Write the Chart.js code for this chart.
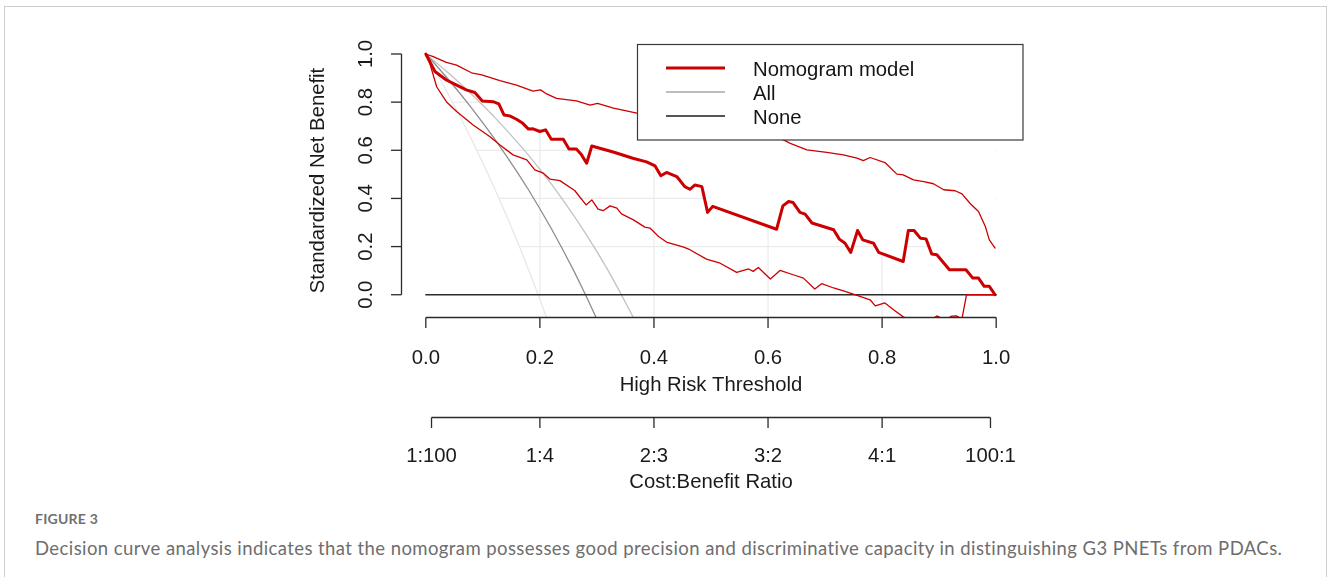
<!DOCTYPE html>
<html>
<head>
<meta charset="utf-8">
<script src="https://cdn.jsdelivr.net/npm/chart.js@4.4.1/dist/chart.umd.min.js"></script>
<style>
html,body{margin:0;padding:0;background:#fff;width:1328px;height:577px;overflow:hidden;}
#frame{position:absolute;left:4px;top:6px;width:1323px;height:640px;border:1.5px solid #cdcdcd;box-sizing:border-box;}
#c{position:absolute;left:0;top:0;}
.cap{position:absolute;left:35px;white-space:nowrap;font-family:Lato,"Open Sans",sans-serif;line-height:1;}
#figlab{top:511.6px;font-size:14px;font-weight:700;color:#707070;}
#figcap{top:538.7px;font-size:18.5px;color:#6e6e6e;}
</style>
</head>
<body>
<div id="frame"></div>
<canvas id="c" width="1328" height="500"></canvas>
<div class="cap" id="figlab"><span>FIGURE 3</span></div>
<div class="cap" id="figcap"><span>Decision curve analysis indicates that the nomogram possesses good precision and discriminative capacity in distinguishing G3 PNETs from PDACs.</span></div>
<script>
// ---------- data ----------
const nomoX = [0,0.016,0.036,0.054,0.071,0.086,0.099,0.118,0.128,0.137,0.147,0.159,0.170,0.180,0.188,0.200,0.210,0.220,0.241,0.251,0.264,0.273,0.282,0.291,0.330,0.363,0.387,0.402,0.412,0.422,0.440,0.454,0.463,0.472,0.484,0.494,0.503,0.615,0.626,0.636,0.644,0.656,0.665,0.677,0.715,0.725,0.735,0.745,0.757,0.766,0.785,0.794,0.837,0.846,0.856,0.867,0.877,0.887,0.896,0.918,0.947,0.959,0.969,0.979,0.988,0.998];
const nomoY = [1.000,0.927,0.892,0.871,0.851,0.840,0.805,0.802,0.793,0.747,0.743,0.729,0.712,0.688,0.689,0.678,0.685,0.646,0.646,0.605,0.605,0.581,0.546,0.618,0.592,0.567,0.552,0.535,0.494,0.508,0.491,0.449,0.438,0.456,0.449,0.342,0.367,0.272,0.369,0.387,0.383,0.342,0.335,0.298,0.270,0.231,0.214,0.176,0.267,0.228,0.214,0.176,0.138,0.267,0.267,0.235,0.232,0.169,0.166,0.104,0.104,0.069,0.069,0.035,0.035,0.000];

const upperX = [0,0.013,0.036,0.054,0.080,0.098,0.130,0.159,0.188,0.201,0.212,0.229,0.264,0.288,0.301,0.329,0.370,0.420,0.470,0.520,0.570,0.610,0.627,0.639,0.668,0.703,0.732,0.756,0.767,0.779,0.805,0.826,0.837,0.855,0.873,0.890,0.908,0.928,0.940,0.954,0.969,0.981,0.988,0.998];
const upperY = [1.000,0.989,0.965,0.954,0.922,0.913,0.889,0.871,0.846,0.851,0.834,0.816,0.805,0.788,0.795,0.775,0.754,0.735,0.718,0.700,0.676,0.652,0.643,0.629,0.602,0.591,0.581,0.567,0.557,0.570,0.549,0.501,0.498,0.477,0.470,0.461,0.436,0.432,0.419,0.380,0.346,0.283,0.228,0.194];

const lowerX = [0,0.007,0.019,0.036,0.054,0.083,0.112,0.130,0.153,0.177,0.191,0.206,0.218,0.235,0.261,0.281,0.291,0.302,0.311,0.323,0.335,0.343,0.364,0.384,0.393,0.408,0.422,0.452,0.463,0.492,0.516,0.545,0.566,0.574,0.583,0.604,0.621,0.644,0.662,0.682,0.694,0.715,0.735,0.756,0.779,0.788,0.805,0.820,0.837,0.855,0.875,0.886,0.896,0.910,0.922,0.930,0.940,0.948,0.998];
const lowerY = [1.000,0.961,0.864,0.802,0.761,0.705,0.657,0.622,0.581,0.560,0.519,0.505,0.480,0.474,0.433,0.373,0.394,0.356,0.349,0.369,0.360,0.336,0.311,0.281,0.277,0.242,0.219,0.198,0.187,0.148,0.131,0.093,0.107,0.097,0.113,0.065,0.101,0.083,0.069,0.024,0.046,0.028,0.014,-0.003,-0.021,-0.046,-0.034,-0.062,-0.092,-0.110,-0.095,-0.105,-0.088,-0.105,-0.089,-0.088,-0.100,0.000,0.000];

const allX = [0,0.02,0.04,0.06,0.08,0.10,0.12,0.14,0.16,0.18,0.20,0.22,0.24,0.26,0.28,0.30];
const allY = [1.000,0.948,0.893,0.836,0.776,0.714,0.649,0.581,0.510,0.436,0.357,0.275,0.188,0.097,0.000,-0.102];

const allHiX = [0,0.02,0.04,0.06,0.08,0.10,0.12,0.14,0.16,0.18,0.20,0.22,0.24,0.26,0.28,0.30,0.32,0.34,0.36,0.37];
const allHiY = [1.000,0.961,0.920,0.878,0.833,0.787,0.739,0.688,0.635,0.580,0.521,0.460,0.395,0.327,0.255,0.179,0.099,0.013,-0.077,-0.125];

const allLoX = [0,0.02,0.04,0.06,0.08,0.10,0.12,0.14,0.16,0.18,0.20,0.22];
const allLoY = [1.000,0.917,0.830,0.740,0.646,0.547,0.444,0.336,0.224,0.105,-0.019,-0.150];

const noneX = [0,1];
const noneY = [0,0];

const xTicks = [0,0.2,0.4,0.6,0.8,1.0];
const xTickLabels = ["0.0","0.2","0.4","0.6","0.8","1.0"];
const yTicks = [0,0.2,0.4,0.6,0.8,1.0];
const yTickLabels = ["0.0","0.2","0.4","0.6","0.8","1.0"];
const cbTicks = [0.01,0.2,0.4,0.6,0.8,0.99];
const cbTickLabels = ["1:100","1:4","2:3","3:2","4:1","100:1"];
const gridX = [0.2,0.4,0.6,0.8];
const gridY = [0.2,0.4,0.6,0.8];
const legendLabels = ["Nomogram model","All","None"];

// ---------- helpers ----------
const pts = (xs, ys) => xs.map((x, i) => ({x: x, y: ys[i]}));
const FONT = '20.3px "Liberation Sans", Arial, sans-serif';
const RED = '#cc0000';

function line(data, color, width, extra) {
  return Object.assign({data: data, borderColor: color, borderWidth: width, pointRadius: 0,
    pointHoverRadius: 0, fill: false, tension: 0, clip: 0, borderJoinStyle: 'round', borderCapStyle: 'round'}, extra || {});
}

const rPlot = {
  id: 'rPlot',
  beforeDatasetsDraw(chart) {
    const ctx = chart.ctx, xs = chart.scales.x, ys = chart.scales.y, a = chart.chartArea;
    ctx.save();
    ctx.strokeStyle = '#ebebeb';
    ctx.lineWidth = 1.2;
    gridX.forEach(v => {
      const px = xs.getPixelForValue(v);
      ctx.beginPath(); ctx.moveTo(px, a.bottom); ctx.lineTo(px, a.top); ctx.stroke();
    });
    gridY.forEach(v => {
      const py = ys.getPixelForValue(v);
      ctx.beginPath(); ctx.moveTo(xs.getPixelForValue(0), py); ctx.lineTo(xs.getPixelForValue(1), py); ctx.stroke();
    });
    ctx.restore();
  },
  afterDatasetsDraw(chart) {
    const ctx = chart.ctx;
    ctx.save();
    // legend box
    ctx.fillStyle = '#ffffff';
    ctx.fillRect(637.5, 44.5, 385.5, 95.5);
    ctx.strokeStyle = '#3a3a3a';
    ctx.lineWidth = 1.2;
    ctx.strokeRect(637.5, 44.5, 385.5, 95.5);
    const rows = [
      {y: 68, color: RED, w: 3, base: 76},
      {y: 92, color: '#bdbdbd', w: 2, base: 99.5},
      {y: 116, color: '#555555', w: 2, base: 124}
    ];
    ctx.font = FONT;
    ctx.textAlign = 'left';
    ctx.textBaseline = 'alphabetic';
    rows.forEach((r, i) => {
      ctx.strokeStyle = r.color; ctx.lineWidth = r.w;
      ctx.beginPath(); ctx.moveTo(666, r.y); ctx.lineTo(725, r.y); ctx.stroke();
      ctx.fillStyle = '#151515';
      ctx.fillText(legendLabels[i], 753, r.base);
    });
    ctx.restore();
  },
  afterDraw(chart) {
    const ctx = chart.ctx, xs = chart.scales.x, ys = chart.scales.y;
    ctx.save();
    ctx.strokeStyle = '#2a2a2a';
    ctx.fillStyle = '#1a1a1a';
    ctx.lineWidth = 1.3;
    ctx.font = FONT;
    // y axis
    const yx = 401.5;
    ctx.beginPath(); ctx.moveTo(yx, ys.getPixelForValue(yTicks[0])); ctx.lineTo(yx, ys.getPixelForValue(yTicks[yTicks.length-1])); ctx.stroke();
    yTicks.forEach((v, i) => {
      const py = ys.getPixelForValue(v);
      ctx.beginPath(); ctx.moveTo(391, py); ctx.lineTo(yx, py); ctx.stroke();
      ctx.save(); ctx.translate(372, py); ctx.rotate(-Math.PI/2);
      ctx.textAlign = 'center'; ctx.textBaseline = 'alphabetic';
      ctx.fillText(yTickLabels[i], 0, 0); ctx.restore();
    });
    ctx.save(); ctx.translate(324, (chart.chartArea.top + chart.chartArea.bottom)/2); ctx.rotate(-Math.PI/2);
    ctx.textAlign = 'center'; ctx.textBaseline = 'alphabetic';
    ctx.fillText('Standardized Net Benefit', 0, 0); ctx.restore();
    // x axis
    const xy = 317.5;
    ctx.textAlign = 'center'; ctx.textBaseline = 'alphabetic';
    ctx.beginPath(); ctx.moveTo(xs.getPixelForValue(xTicks[0]), xy); ctx.lineTo(xs.getPixelForValue(xTicks[xTicks.length-1]), xy); ctx.stroke();
    xTicks.forEach((v, i) => {
      const px = xs.getPixelForValue(v);
      ctx.beginPath(); ctx.moveTo(px, xy); ctx.lineTo(px, 328); ctx.stroke();
      ctx.fillText(xTickLabels[i], px, 364);
    });
    const cx = (chart.chartArea.left + chart.chartArea.right)/2;
    ctx.fillText('High Risk Threshold', cx, 391);
    // cost:benefit axis
    const cy = 417.5;
    ctx.beginPath(); ctx.moveTo(xs.getPixelForValue(cbTicks[0]), cy); ctx.lineTo(xs.getPixelForValue(cbTicks[cbTicks.length-1]), cy); ctx.stroke();
    cbTicks.forEach((v, i) => {
      const px = xs.getPixelForValue(v);
      ctx.beginPath(); ctx.moveTo(px, cy); ctx.lineTo(px, 428); ctx.stroke();
      ctx.fillText(cbTickLabels[i], px, 462);
    });
    ctx.fillText('Cost:Benefit Ratio', cx, 488);
    ctx.restore();
  }
};

new Chart(document.getElementById('c'), {
  type: 'line',
  data: {
    datasets: [
      line(pts(nomoX, nomoY), RED, 3),
      line(pts(upperX, upperY), RED, 1.3),
      line(pts(lowerX, lowerY), RED, 1.3),
      line(pts(noneX, noneY), '#2b2b2b', 1.3),
      line(pts(allX, allY), '#8e8e8e', 1.3),
      line(pts(allHiX, allHiY), '#c2c2c2', 1.3),
      line(pts(allLoX, allLoY), '#e6e6e6', 1.2),
      // white masks that hide the grid outside the region under the model curve
      line(pts(nomoX, nomoY), 'rgba(0,0,0,0)', 0, {fill: 'end', backgroundColor: '#ffffff'}),
      line(pts(allLoX, allLoY), 'rgba(0,0,0,0)', 0, {fill: 'start', backgroundColor: '#ffffff'})
    ]
  },
  options: {
    responsive: false,
    animation: false,
    devicePixelRatio: 1,
    layout: {padding: {left: 403, right: 309, top: 44, bottom: 183}},
    plugins: {legend: {display: false}, tooltip: {enabled: false}, title: {display: false}},
    events: [],
    scales: {
      x: {type: 'linear', min: -0.04, max: 1.04, display: false},
      y: {type: 'linear', min: -0.0925, max: 1.0415, display: false}
    }
  },
  plugins: [rPlot]
});

// fit caption text widths
function fit(id, target) {
  const el = document.querySelector('#' + id + ' span');
  const n = el.textContent.length;
  const w = el.getBoundingClientRect().width;
  el.style.letterSpacing = ((target - w) / n) + 'px';
}
fit('figlab', 63);
fit('figcap', 1248);
</script>
</body>
</html>
